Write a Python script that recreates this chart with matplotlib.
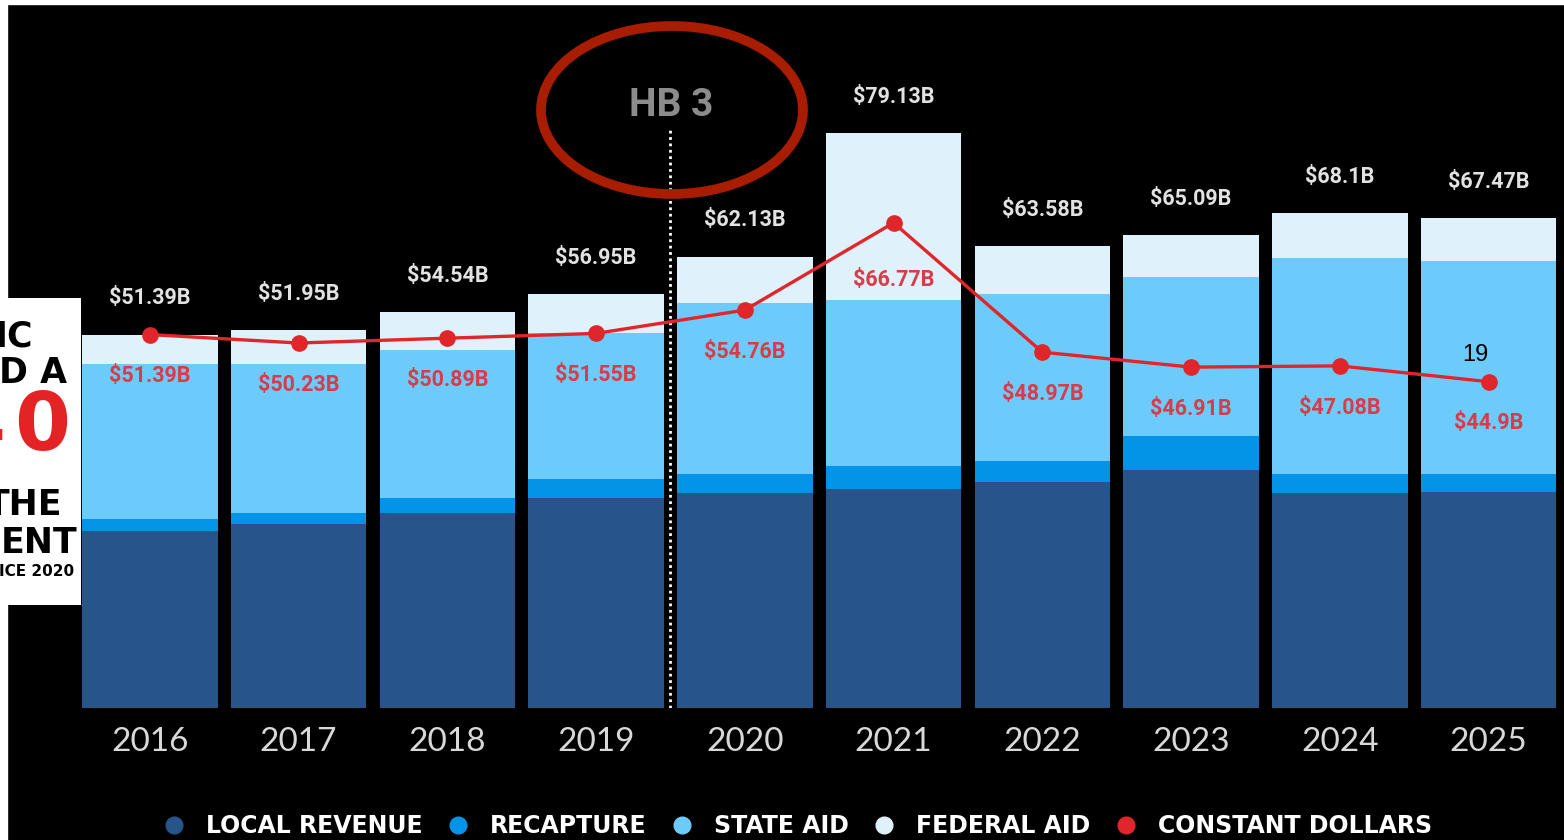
import matplotlib.pyplot as plt
import numpy as np
from matplotlib.patches import Ellipse, Rectangle
from matplotlib.lines import Line2D

# 數據（單位：十億美元）
years = ['2016', '2017', '2018', '2019', '2020', '2021', '2022', '2023', '2024', '2025']
local_revenue = [24.31, 25.36, 26.79, 28.96, 29.63, 30.15, 31.11, 32.82, 29.54, 29.70]
recapture = [1.67, 1.51, 2.05, 2.61, 2.59, 3.14, 2.88, 4.65, 2.60, 2.46]
state_aid = [21.39, 20.42, 20.37, 20.04, 23.49, 22.92, 23.02, 21.88, 29.81, 29.29]
federal_aid = [4.02, 4.66, 5.33, 5.34, 6.42, 22.92, 6.57, 5.74, 6.15, 6.02]
totals = [51.39, 51.95, 54.54, 56.95, 62.13, 79.13, 63.58, 65.09, 68.1, 67.47]
constant_dollars = [51.39, 50.23, 50.89, 51.55, 54.76, 66.77, 48.97, 46.91, 47.08, 44.9]

series_names = ['LOCAL REVENUE', 'RECAPTURE', 'STATE AID', 'FEDERAL AID']
series_colors = ['#27548a', '#0394e8', '#6ccbfb', '#dff1fa']
line_color = '#e0262b'
label_red = '#d83c48'

W, H = 1564, 840
fig = plt.figure(figsize=(W / 100, H / 100), dpi=100, facecolor='black')

# 白色邊框（放在最底層）
fig.add_artist(Rectangle((0, 0), 7 / W, 1, transform=fig.transFigure, color='white', zorder=-1))
fig.add_artist(Rectangle((0, 1 - 4 / H), 1, 4 / H, transform=fig.transFigure, color='white', zorder=-1))

# 主圖
ax = fig.add_axes([68 / W, 132 / H, 1495 / W, 654 / H])
ax.set_facecolor('black')
x = np.arange(len(years))

bottom = np.zeros(len(years))
for vals, col in zip([local_revenue, recapture, state_aid, federal_aid], series_colors):
    ax.bar(x, vals, width=0.91, bottom=bottom, color=col, zorder=2)
    bottom += np.array(vals)

ax.plot(x, constant_dollars, color=line_color, lw=2.4, marker='o', markersize=11, zorder=4)

for i, t in enumerate(totals):
    ax.annotate(f'${t:g}B', (x[i], t), xytext=(0, 26), textcoords='offset points',
                ha='center', va='center', color='#e2e2e2', fontsize=15.5,
                fontweight='bold', family='Roboto', zorder=5)

for i, c in enumerate(constant_dollars):
    off = -41 if i == 5 else -30
    ax.annotate(f'${c:g}B', (x[i], c), xytext=(0, off), textcoords='offset points',
                ha='center', va='center', color=label_red, fontsize=15.5,
                fontweight='bold', family='Roboto', zorder=5)

# HB 3 分隔線
ax.plot([3.5, 3.5], [0, 79.5], color='white', lw=2, ls=(0, (1, 1.3)), zorder=3)

ax.set_xlim(-0.55, 9.5)
ax.set_ylim(0, 90)
ax.set_xticks(x, years)
ax.set_yticks([])
ax.tick_params(axis='x', length=0, pad=14, labelsize=24, labelcolor='#d8d8d8')
for lab in ax.get_xticklabels():
    lab.set_family('Lato')
for s in ax.spines.values():
    s.set_visible(False)

fig.text(671 / W, 1 - 106 / H, 'HB 3', color='#8c8c8c', fontsize=28, fontweight='bold',
         family='Roboto', ha='center', va='center')
fig.add_artist(Ellipse((672 / W, 1 - 110 / H), 262 / W, 168 / H, transform=fig.transFigure,
                       fill=False, ec='#a81c00', lw=7))

# 圖例
handles = [Line2D([], [], ls='none', marker='o', markersize=12, color=c) for c in series_colors]
handles.append(Line2D([], [], ls='none', marker='o', markersize=12, color=line_color))
fig.legend(handles, series_names + ['CONSTANT DOLLARS'], loc='center',
           bbox_to_anchor=(797 / W, 1 - 826 / H), ncol=5, frameon=False,
           labelcolor='white', handlelength=1.0, handletextpad=0.85, columnspacing=1.0,
           prop={'family': 'DejaVu Sans', 'weight': 'bold', 'size': 17})

# 左側白色覆蓋框（被截斷的文字）
ax2 = fig.add_axes([0, (H - 605) / H, 81 / W, 307 / H])
ax2.set_facecolor('white')
ax2.set_xticks([])
ax2.set_yticks([])
for s in ax2.spines.values():
    s.set_visible(False)
ax2.set_xlim(0, 81)
ax2.set_ylim(605, 298)
overlay = [('IC', 33, 336, 25, 'black'), ('D A', 67, 373, 25, 'black'),
           ('4', 5, 428, 58, '#e42424'), ('0', 70, 428, 58, '#e42424'),
           ('THE', 62, 505, 25, 'black'), ('ENT', 77, 543, 25, 'black'),
           ('ICE 2020', 74, 572, 11, 'black')]
for txt, xr, yc, fs, col in overlay:
    ax2.text(xr, yc, txt, ha='right', va='center', fontsize=fs, fontweight='bold',
             color=col, family='DejaVu Sans', clip_on=True)

fig.text(1475 / W, 1 - 355 / H, '19', color='black', fontsize=17, family='Liberation Sans',
         ha='center', va='center')

fig.savefig('out.png', dpi=100, facecolor='black')
